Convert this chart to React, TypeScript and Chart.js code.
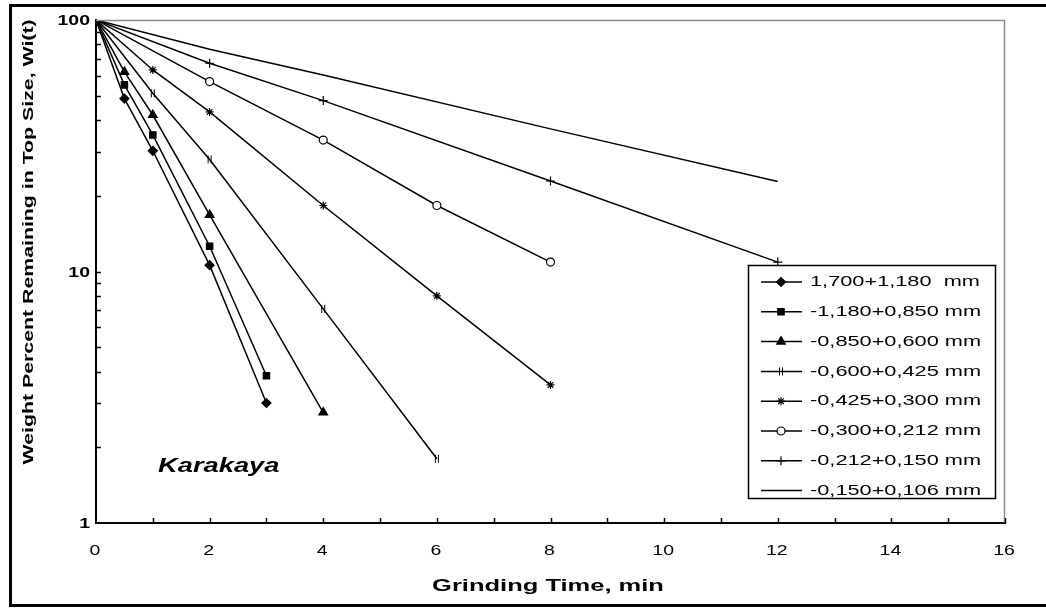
import React, { useEffect, useRef } from "react";
import { Chart, registerables } from "chart.js";
import { drawPoint } from "chart.js/helpers";

Chart.register(...registerables);

const seriesLabels = [
  "1,700+1,180  mm",
  "-1,180+0,850 mm",
  "-0,850+0,600 mm",
  "-0,600+0,425 mm",
  "-0,425+0,300 mm",
  "-0,300+0,212 mm",
  "-0,212+0,150 mm",
  "-0,150+0,106 mm",
];

const time1 = [0, 0.5, 1, 2, 3];
const weight1 = [100, 48.7, 30.2, 10.6, 3.0];
const time2 = [0, 0.5, 1, 2, 3];
const weight2 = [100, 55.2, 34.9, 12.6, 3.85];
const time3 = [0, 0.5, 1, 2, 4];
const weight3 = [100, 62.2, 41.9, 16.8, 2.75];
const time4 = [0, 1, 2, 4, 6];
const weight4 = [100, 51.1, 27.9, 7.1, 1.8];
const time5 = [0, 1, 2, 4, 6, 8];
const weight5 = [100, 63.3, 43.1, 18.3, 8.0, 3.54];
const time6 = [0, 2, 4, 6, 8];
const weight6 = [100, 56.9, 33.3, 18.3, 10.9];
const time7 = [0, 2, 4, 8, 12];
const weight7 = [100, 67.3, 47.8, 22.9, 10.9];
const time8 = [0, 2, 4, 8, 12];
const weight8 = [100, 76.5, 60.4, 36.9, 22.8];

const xTickLabels = [0, 2, 4, 6, 8, 10, 12, 14, 16];
const yTickLabels = [1, 10, 100];
const yMinorTicks = [2, 3, 4, 5, 6, 7, 8, 9, 20, 30, 40, 50, 60, 70, 80, 90];

const FONT = "'Liberation Sans', Arial, sans-serif";

function toPoints(t: number[], w: number[]) {
  return t.map((x, i) => ({ x, y: w[i] }));
}

function sText(
  ctx: CanvasRenderingContext2D,
  text: string,
  x: number,
  y: number,
  font: string,
  sx: number,
  align: CanvasTextAlign
) {
  ctx.save();
  ctx.font = font;
  ctx.translate(x, y);
  ctx.scale(sx, 1);
  ctx.textAlign = align;
  ctx.textBaseline = "middle";
  ctx.fillStyle = "#000";
  ctx.fillText(text, 0, 0);
  ctx.restore();
}

function makeBarsMarker() {
  const c = document.createElement("canvas");
  c.width = 10;
  c.height = 10;
  const g = c.getContext("2d")!;
  g.strokeStyle = "#000";
  g.lineWidth = 1;
  g.beginPath();
  g.moveTo(3.5, 1);
  g.lineTo(3.5, 9);
  g.moveTo(6.5, 1);
  g.lineTo(6.5, 9);
  g.stroke();
  return c;
}

export default function App() {
  const ref = useRef<HTMLCanvasElement>(null);

  useEffect(() => {
    document.body.style.margin = "0";
    const canvas = ref.current!;
    const bars = makeBarsMarker();

    const styles: any[] = [
      { pointStyle: "rectRot", radius: 4.5, fill: "#000" },
      { pointStyle: "rect", radius: 4.5, fill: "#000" },
      { pointStyle: "triangle", radius: 5, fill: "#000" },
      { pointStyle: bars, radius: 4, fill: "#000" },
      { pointStyle: "star", radius: 4, fill: "#000" },
      { pointStyle: "circle", radius: 4, fill: "#fff" },
      { pointStyle: "cross", radius: 4.5, fill: "#000" },
      { pointStyle: "line", radius: 0, fill: "#000" },
    ];
    const allData = [
      toPoints(time1, weight1),
      toPoints(time2, weight2),
      toPoints(time3, weight3),
      toPoints(time4, weight4),
      toPoints(time5, weight5),
      toPoints(time6, weight6),
      toPoints(time7, weight7),
      toPoints(time8, weight8),
    ];

    const datasets = allData.map((d, i) => ({
      label: seriesLabels[i],
      data: d,
      borderColor: "#000",
      backgroundColor: styles[i].fill,
      pointBackgroundColor: styles[i].fill,
      pointBorderColor: "#000",
      pointBorderWidth: 1.2,
      pointStyle: styles[i].pointStyle,
      pointRadius: styles[i].radius,
      borderWidth: 1.5,
      tension: 0,
      fill: false,
    }));

    const decor = {
      id: "decor",
      afterDraw(chart: any) {
        const ctx: CanvasRenderingContext2D = chart.ctx;
        const ca = chart.chartArea;
        const xs = chart.scales.x;
        const ys = chart.scales.y;
        ctx.save();

        // outer frame
        ctx.strokeStyle = "#000";
        ctx.lineWidth = 3;
        ctx.beginPath();
        ctx.moveTo(1046, 5.5);
        ctx.lineTo(10.5, 5.5);
        ctx.lineTo(10.5, 605.5);
        ctx.lineTo(1046, 605.5);
        ctx.stroke();

        // grey top/right plot border
        ctx.strokeStyle = "#8a8a8a";
        ctx.lineWidth = 1.5;
        ctx.beginPath();
        ctx.moveTo(ca.left, ca.top + 0.5);
        ctx.lineTo(ca.right - 0.5, ca.top + 0.5);
        ctx.lineTo(ca.right - 0.5, ca.bottom);
        ctx.stroke();

        // inward ticks
        ctx.strokeStyle = "#000";
        ctx.lineWidth = 1.5;
        ctx.beginPath();
        for (let v = 1; v <= 16; v++) {
          const px = Math.round(xs.getPixelForValue(v)) + 0.5;
          ctx.moveTo(px, ca.bottom);
          ctx.lineTo(px, ca.bottom - 5);
        }
        [...yMinorTicks, 10].forEach((v) => {
          const py = Math.round(ys.getPixelForValue(v)) + 0.5;
          ctx.moveTo(ca.left, py);
          ctx.lineTo(ca.left + 5, py);
        });
        ctx.stroke();

        // tick labels
        xTickLabels.forEach((v) => {
          sText(ctx, String(v), xs.getPixelForValue(v) - 1, 551, `15px ${FONT}`, 1.3, "center");
        });
        yTickLabels.forEach((v) => {
          sText(ctx, String(v), 90, ys.getPixelForValue(v) + 1, `bold 15px ${FONT}`, 1.3, "right");
        });

        // axis titles
        sText(ctx, "Grinding Time, min", 548, 586, `bold 17px ${FONT}`, 1.5, "center");
        ctx.save();
        ctx.translate(29, 242);
        ctx.rotate(-Math.PI / 2);
        ctx.font = `bold 15px ${FONT}`;
        ctx.textAlign = "center";
        ctx.textBaseline = "middle";
        ctx.fillStyle = "#000";
        ctx.scale(1.42, 1);
        ctx.fillText("Weight Percent Remaining in Top Size, Wi(t)", 0, 0);
        ctx.restore();

        // annotation
        sText(ctx, "Karakaya", 158, 466, `italic bold 21px ${FONT}`, 1.3, "left");

        // legend
        const lx = 748, ly = 265, lw = 247, lh = 233;
        ctx.fillStyle = "#fff";
        ctx.fillRect(lx, ly, lw, lh);
        ctx.strokeStyle = "#000";
        ctx.lineWidth = 1.5;
        ctx.strokeRect(lx + 0.5, ly + 0.5, lw, lh);
        chart.data.datasets.forEach((ds: any, i: number) => {
          const ry = 282 + i * 29.8;
          ctx.strokeStyle = "#000";
          ctx.lineWidth = 1.5;
          ctx.beginPath();
          ctx.moveTo(761, ry);
          ctx.lineTo(802, ry);
          ctx.stroke();
          if (ds.pointRadius > 0) {
            ctx.fillStyle = ds.pointBackgroundColor;
            ctx.strokeStyle = "#000";
            ctx.lineWidth = 1.2;
            drawPoint(ctx, { pointStyle: ds.pointStyle, radius: ds.pointRadius, rotation: 0, borderWidth: 1.2 } as any, 781, ry);
          }
          sText(ctx, ds.label, 810, ry, `15px ${FONT}`, 1.45, "left");
        });

        ctx.restore();
      },
    };

    const chart = new Chart(canvas, {
      type: "line",
      data: { datasets },
      options: {
        animation: false,
        responsive: false,
        devicePixelRatio: 1,
        layout: { padding: { left: 0, right: 41, top: 20, bottom: 0 } },
        plugins: { legend: { display: false }, tooltip: { enabled: false } },
        scales: {
          x: {
            type: "linear",
            min: 0,
            max: 16,
            ticks: { display: false, stepSize: 1 },
            grid: { display: false },
            border: { display: true, color: "#000", width: 2 },
            afterFit(scale: any) {
              scale.height = 85;
            },
          },
          y: {
            type: "logarithmic",
            min: 1,
            max: 100,
            ticks: { display: false },
            grid: { display: false },
            border: { display: true, color: "#000", width: 2 },
            afterFit(scale: any) {
              scale.width = 96;
            },
          },
        },
      },
      plugins: [decor],
    });

    return () => chart.destroy();
  }, []);

  return (
    <div style={{ width: 1046, height: 608, background: "#fff" }}>
      <canvas ref={ref} width={1046} height={608} style={{ width: 1046, height: 608, display: "block" }} />
    </div>
  );
}
